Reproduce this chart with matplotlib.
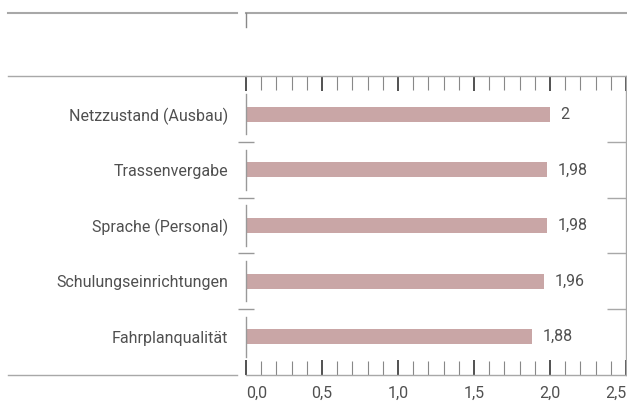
import numpy as np
import matplotlib.pyplot as plt
from matplotlib.lines import Line2D
from matplotlib.ticker import MultipleLocator

categories = ['Netzzustand (Ausbau)', 'Trassenvergabe', 'Sprache (Personal)',
              'Schulungseinrichtungen', 'Fahrplanqualität']
values = [2.0, 1.98, 1.98, 1.96, 1.88]
value_labels = ['2', '1,98', '1,98', '1,96', '1,88']
xticks = [0.0, 0.5, 1.0, 1.5, 2.0, 2.5]
xtick_labels = ['0,0', '0,5', '1,0', '1,5', '2,0', '2,5']

W, H = 627, 407
plt.rcParams['font.family'] = ['Roboto', 'DejaVu Sans']
text_col = '#505050'
line_col = '#a8a8a8'
bar_col = '#c9a6a6'
fs = 11.5

fig = plt.figure(figsize=(W / 100, H / 100), dpi=100)
ax = fig.add_axes([246 / W, 1 - 375 / H, 380 / W, 299 / H])

y = np.arange(len(categories))
ax.barh(y, values, height=0.27, color=bar_col)
for yi, v, lab in zip(y, values, value_labels):
    ax.text(v + 0.07, yi, lab, va='center', ha='left', fontsize=fs, color=text_col)

ax.set_xlim(0, 2.5)
ax.set_ylim(4.69, -0.69)

ax.set_yticks(y)
ax.set_yticklabels(categories, fontsize=fs, color=text_col)
ax.tick_params(axis='y', length=0, pad=13)

ax.set_xticks(xticks)
xl = ax.set_xticklabels(xtick_labels)
xl[0].set_horizontalalignment('left')
xl[-1].set_horizontalalignment('right')
ax.xaxis.set_minor_locator(MultipleLocator(0.1))
ax.tick_params(axis='x', which='major', direction='in', length=11, width=1.2,
               color='#333333', top=True, labelsize=fs, labelcolor=text_col, pad=8)
ax.tick_params(axis='x', which='minor', direction='in', length=10, width=0.8,
               color='#888888', top=True)

ax.spines['left'].set_visible(False)
for s in ['top', 'bottom', 'right']:
    ax.spines[s].set_color(line_col)
    ax.spines[s].set_linewidth(1)

# broken left axis and category separators
for yi in y:
    ax.plot([0, 0], [yi - 0.36, yi + 0.36], color='#999999', lw=1, clip_on=False)
ax.hlines(y[:-1] + 0.5, -0.053, 0.053, color='#999999', lw=1, clip_on=False)
ax.hlines(y[:-1] + 0.5, 2.375, 2.5, color=line_col, lw=1, clip_on=False)

# extra frame lines
fig.add_artist(Line2D([8 / W, 246 / W], [1 - 76 / H] * 2, color=line_col, lw=1))
fig.add_artist(Line2D([8 / W, 237 / W], [1 - 375 / H] * 2, color=line_col, lw=1))
fig.add_artist(Line2D([8 / W, 237 / W], [1 - 13 / H] * 2, color=line_col, lw=1.5))
fig.add_artist(Line2D([246 / W, 1], [1 - 13 / H] * 2, color=line_col, lw=1.5))
fig.add_artist(Line2D([246 / W, 246 / W], [1 - 13 / H, 1 - 27 / H], color='#888888', lw=1))

fig.savefig('out.png', dpi=100)
